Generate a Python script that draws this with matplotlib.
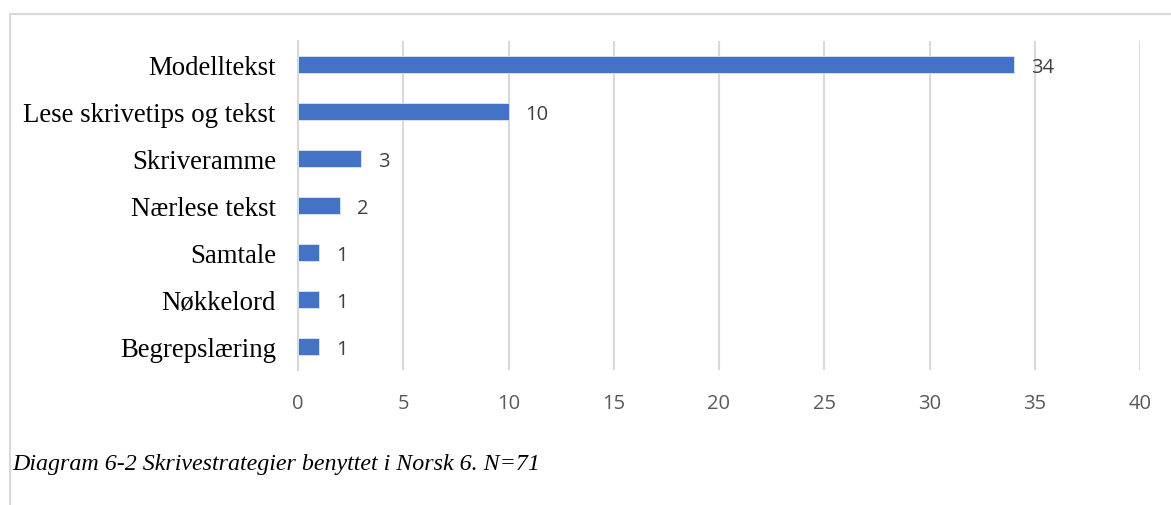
import matplotlib.pyplot as plt
from matplotlib.lines import Line2D

categories = ['Modelltekst', 'Lese skrivetips og tekst', 'Skriveramme',
              'Nærlese tekst', 'Samtale', 'Nøkkelord', 'Begrepslæring']
counts = [34, 10, 3, 2, 1, 1, 1]
xticks = [0, 5, 10, 15, 20, 25, 30, 35, 40]
caption = 'Diagram 6-2 Skrivestrategier benyttet i Norsk 6. N=71'

W, H = 1171, 506
fig = plt.figure(figsize=(W / 100, H / 100), dpi=100)
ax = fig.add_axes([298 / W, 1 - 371 / H, (1140 - 298) / W, (371 - 42.3) / H])

pos = list(range(len(categories)))
ax.barh(pos, counts, height=0.36, color='#4472C4', edgecolor='#dde6f5', linewidth=0.6, zorder=3)
ax.set_ylim(len(categories) - 0.5, -0.5)
ax.set_xlim(0, 40)
ax.set_yticks(pos)
ax.set_yticklabels(categories, family='Liberation Serif', fontsize=19.3, color='black')
ax.set_xticks(xticks)
ax.set_xticklabels([str(t) for t in xticks], family='Open Sans', fontsize=14.5, color='#595959')
ax.tick_params(length=0)
ax.tick_params(axis='x', pad=16.5)
ax.tick_params(axis='y', pad=16)

ax.grid(axis='x', color='#d9d9d9', linewidth=1.5, zorder=0)
for s in ['top', 'right', 'bottom']:
    ax.spines[s].set_visible(False)
ax.spines['left'].set_color('#d9d9d9')
ax.spines['left'].set_linewidth(1.5)

for p, v in zip(pos, counts):
    ax.annotate(str(v), (v, p), xytext=(17, 0), textcoords='offset pixels',
                va='center_baseline', ha='left', family='Open Sans', fontsize=14.5, color='#404040')

# frame around the chart area
fig.add_artist(Line2D([10 / W, 1], [1 - 15 / H, 1 - 15 / H], color='#d9d9d9', linewidth=1.5))
fig.add_artist(Line2D([10 / W, 10 / W], [0, 1 - 15 / H], color='#d9d9d9', linewidth=1.5))

fig.text(12 / W, 1 - 465 / H, caption, family='Liberation Serif', style='italic',
         fontsize=17.3, va='center', ha='left', color='black')

fig.savefig('out.png', dpi=100, facecolor='white')
